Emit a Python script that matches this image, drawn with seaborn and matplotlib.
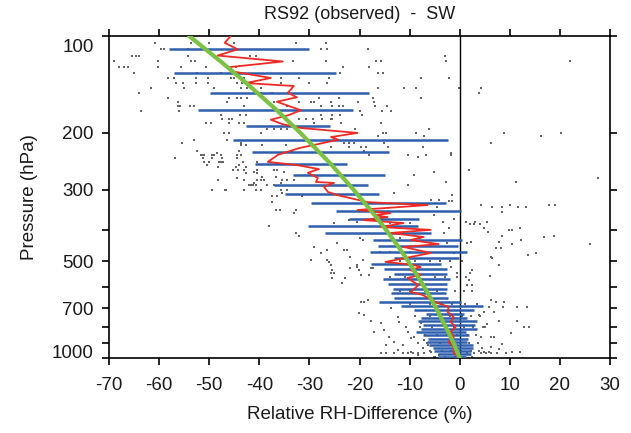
import matplotlib
matplotlib.use("Agg")
import matplotlib.pyplot as plt
import matplotlib.transforms as mtransforms
from matplotlib.ticker import FixedLocator, NullLocator, FixedFormatter
import pandas as pd
import seaborn as sns

# mean profile (red)
red_p = [100, 105, 110, 115, 120, 125, 129, 135, 140, 143, 150, 155, 160, 170, 176, 182,
         188, 193, 200, 206, 210, 223, 234, 246, 252, 259, 266, 276, 284, 286, 294, 305,
         312, 328, 335, 347, 355, 360, 365, 373, 381, 392, 400, 409, 421, 430, 443, 452,
         472, 503, 514, 522, 533, 552, 564, 581, 593, 624, 637, 675, 694, 720, 746, 773,
         801, 830, 861, 892, 924, 965, 1000]
red_x = [-45.7, -46.9, -44.3, -48.3, -35.3, -46.1, -45.1, -37.7, -42.7, -33.1, -34.3, -32.5,
         -36.5, -31.7, -34.1, -37.7, -35.3, -31.7, -20.4, -25.7, -24.2, -32.1, -36.3, -38.3,
         -32.3, -28.1, -30.3, -28.3, -28.7, -25.1, -27.1, -26.3, -24.4, -18.4, -6.4, -20.4,
         -13.8, -17.2, -14.4, -19.2, -11.2, -15.8, -5.8, -13.8, -7.2, -9.8, -4.2, -11.2,
         -5.8, -14.8, -9.2, -7.8, -9.8, -7.8, -10.4, -9.2, -8.2, -9.8, -7.4, -4.4, -2.2,
         -2.4, -1.2, -1.8, -0.8, -1.8, -1.2, -2.2, -1.2, -1.2, 0.2]

# spread at coarser levels (blue)
bar_p = [110, 130, 150, 170, 190, 210, 230, 250, 270, 290, 310, 330, 350, 370, 390, 410,
         430, 450, 470, 490, 510, 530, 550, 570, 590, 610, 630, 650, 670, 690, 710, 730,
         750, 770, 790, 810, 830, 850, 870, 890, 910, 930, 950, 970, 990]
bar_lo = [-58.1, -57.1, -49.9, -52.3, -42.7, -45.3, -41.5, -40.9, -33.3, -37.1, -34.9, -29.7,
          -24.6, -22.0, -30.3, -26.9, -17.4, -16.4, -18.0, -13.2, -17.8, -15.2, -13.2, -15.4,
          -14.4, -13.4, -13.8, -13.2, -16.2, -11.8, -9.2, -6.8, -7.8, -8.4, -7.4, -7.8,
          -8.8, -7.4, -6.4, -6.6, -6.2, -5.4, -5.2, -4.4, -4.4]
bar_hi = [-30.1, -24.6, -18.2, -21.2, -25.9, -2.4, -14.1, -22.4, -15.0, -18.4, -16.2, -2.7,
          0.2, -8.2, -8.4, -5.8, 0.5, -0.3, 1.5, -0.2, -3.8, -2.5, -2.5, -2.0, -2.5, -2.5,
          -2.8, -2.4, 0.2, 4.7, 2.8, 0.8, 1.5, 3.5, 3.0, 3.5, 1.2, 1.8, 1.6, 1.5, 2.6, 2.6,
          2.2, 2.2, 1.2]

# fitted curve (green)
green_p = [100, 120, 140, 170, 200, 250, 300, 350, 400, 450, 500, 600, 700, 800, 900, 1000]
green_x = [-54.0, -47.7, -42.6, -36.5, -31.8, -25.7, -21.2, -17.6, -14.7, -12.3, -10.3,
           -7.1, -4.7, -2.8, -1.2, 0.0]

# individual differences (dots), one list per pressure level
dot_levels = [105, 110, 115, 120, 125, 130, 135, 140, 145, 150, 156, 160, 165, 171, 176, 181,
              186, 194, 200, 205, 210, 215, 218, 221, 228, 231, 234, 238, 239, 246, 252, 255,
              261, 265, 267, 270, 274, 276, 280, 284, 286, 290, 301, 307, 312, 314, 323, 326,
              328, 335, 340, 347, 351, 355, 360, 370, 373, 378, 380, 383, 390, 395, 400, 407,
              410, 418, 421, 425, 430, 436, 440, 442, 452, 455, 462, 470, 472, 479, 485, 489,
              496, 500, 503, 514, 521, 525, 533, 544, 552, 558, 560, 564, 573, 585, 593, 620,
              660, 670, 680, 694, 700, 720, 725, 735, 740, 746, 767, 773, 781, 784, 800, 801,
              818, 830, 836, 850, 861, 867, 879, 892, 898, 900, 905, 911, 924, 931, 938, 945,
              950, 958, 965, 979, 990, 993]
dot_rows = [
    [-60.8, -53.7, -50.1, -45.1, -32.7, -26.7],
    [-59.7, -59.1, -54.2, -27.7, -26.5, -18.4],
    [-65.5, -64.7, -64.0, -54.2, -41.9, -40.7, -2.9],
    [-69.0, -60.2, -53.6, -52.9, -33.2, -26.7, -16.8, -15.8, -2.8, 22.0],
    [-68.0, -67.0, -66.3, -60.3, -55.7, -50.7, -44.7, -23.2, -18.2],
    [-65.1, -52.4, -47.6, -23.9, -16.3, -15.4],
    [-58.3, -57.0, -52.7, -50.2, -45.7, -45.0, -43.1, -35.7, -32.1, -26.1, -7.8, -2.1],
    [-56.7, -55.2, -52.7, -50.2, -44.4, -43.4, -41.7, -35.7, -30.1, -26.4],
    [-61.7, -55.0, -49.0, -43.7, -42.4, -39.7, -16.4, -11.1, -8.8, -0.1, 4.2],
    [-64.0, -39.7, -37.4, 3.9],
    [-58.3, -46.0, -44.4, -43.7, -42.4, -28.1, -24.1, -17.4, -7.8],
    [-56.3, -46.4, -37.1, -32.1, -29.6, -29.1, -25.7, -20.3, -17.1],
    [-56.3, -55.9, -53.8, -53.0, -43.1, -34.4, -27.7, -25.4, -24.1, -23.2, -16.9, -14.6],
    [-63.7, -56.0, -19.9, -15.6, -13.8],
    [-47.7, -43.9, -42.7, -27.7, -25.4, -23.9, -19.6],
    [-47.4, -46.0, -45.4, -32.1, -30.7, -29.2, -27.4, -25.7, -25.4],
    [-50.7, -49.7, -46.0, -44.0, -43.1, -29.1, -23.6, -15.8],
    [-38.4, -37.1, -35.7, -34.4, -32.7, -20.8, -6.1],
    [-47.0, -46.0, -39.7, -15.4, -14.8, -8.8, 8.8, 20.3],
    [-16.4, -7.1, 16.2],
    [-53.0, -46.4],
    [-55.4, -43.7, -23.1, -22.1, -21.1, -15.1, 6.2],
    [-43.7, -42.7, -39.4, -34.7],
    [-25.7, -22.1, -19.8, -18.8, -14.4, -7.4],
    [-52.4, -44.0, -33.4, -19.1],
    [-48.4, -1.8],
    [-51.7, -51.4, -51.0, -49.4, -49.0, -47.7, -44.4, -43.7, -18.1, -10.4, -6.8, -1.8],
    [-8.4],
    [-56.8, -51.2, -49.4, -47.4, -44.4],
    [-51.0, -50.0, -48.0, -47.7, -47.2, -43.2, -40.4],
    [-50.5, -44.1],
    [-48.2, -44.7, -42.7],
    [-45.2, -44.3, -43.1, -40.4, -37.1, -36.4, 1.9],
    [-41.1, -35.1, -5.1],
    [-42.7, -40.4],
    [-9.1],
    [-39.4, -36.7],
    [-44.4, 27.6],
    [-48.2, -43.1, -40.4, -39.7, -39.1, -35.4, -34.4, -33.1],
    [-2.8, 11.2],
    [-41.1, -35.7],
    [-42.1, -41.7, -41.2, -40.7, -38.4, -37.1, -10.4],
    [-49.4, -46.8, -46.7, -43.1, -40.7, -39.7, -35.7, -34.4],
    [-35.4, -13.1],
    [-1.5],
    [-37.4, -36.4, -31.4],
    [-5.8, -4.1],
    [-2.1, -1.5],
    [-37.5],
    [4.2, 10.0, 17.8, 19.0],
    [-4.5, 6.5, 8.5, 11.7, 13.2],
    [-36.6, -35.9, -32.7],
    [8.5],
    [-33.1],
    [-5.1],
    [-1.1],
    [-22.1],
    [-20.4, -3.3, 1.3, 3.1, 5.4],
    [-25.0, -14.0, -10.0],
    [2.1, 2.9, 4.1],
    [-38.1],
    [-2.1, 4.9, 12.0],
    [9.8, 10.5],
    [5.7],
    [-32.7, -3.1],
    [-32.1, 8.4, 18.8],
    [16.8],
    [-20.0, -12.0, -8.0],
    [-19.4, 12.3],
    [2.3, 7.8],
    [-24.4, -2.5, 1.4],
    [10.5, 26.1],
    [-29.1],
    [7.2, 8.2],
    [-26.4, -23.1, -22.4],
    [-16.0, -14.0, -10.0],
    [-27.7, -1.1, 15.2],
    [13.7],
    [-21.8, 6.2],
    [6.4],
    [-29.7, -26.4, -19.4],
    [-12.0, -9.0, -6.0, -4.0, -2.0, 0.5],
    [-26.1],
    [-25.7, -20.4, 7.8],
    [-20.4, -1.8],
    [-21.8, -17.8, -17.4],
    [-25.4, -20.1, 2.5],
    [-25.7, -25.1, -0.5, 2.1],
    [-19.8, -18.1],
    [6.0],
    [-14.0, -11.0, -8.5, -5.0, -3.0, -0.5, 1.2],
    [-25.4, -22.8],
    [1.9],
    [-23.4],
    [1.4, 2.5],
    [-12.0, -10.0, -7.0, -4.5, -1.0, 0.8, 2.5],
    [-18.4, 6.2],
    [-19.8, -19.1, 7.2, 8.8],
    [-10.0, -6.0, -3.5, -1.5, 1.0, 3.5],
    [5.8, 8.6, 11.5, 13.4],
    [-13.8],
    [4.9, 6.8],
    [-20.1],
    [-19.1, 3.9],
    [-9.0, -6.0, -4.0, -2.0, 0.5, 2.2, 4.0],
    [-12.4],
    [-17.8, 7.8, 11.5],
    [-12.1],
    [-15.8, -7.8],
    [5.4],
    [-8.0, -5.5, -3.0, -1.2, 0.8, 2.6, 5.0],
    [-10.8, 4.7, 12.8, 13.8],
    [-15.1],
    [-17.1, -10.4],
    [10.2],
    [-7.0, -4.5, -2.5, -0.5, 1.4, 3.2],
    [-14.1, -9.1, 4.2, 6.2, 6.8],
    [-9.8],
    [-7.1],
    [-13.1],
    [-8.4],
    [-6.5, -4.0, -2.0, 0.0, 1.8, 3.6],
    [8.5],
    [-14.8, -11.4, -6.4],
    [6.2],
    [-7.4, 4.5],
    [7.8],
    [-12.4],
    [-6.0, -3.5, -1.8, 0.3, 2.2, 3.8],
    [-9.8, -5.8, 4.9, 5.8, 10.4, 12.0],
    [-15.8, -14.8, -13.1, -11.4, -10.4, -9.4, -8.4, -7.1, 1.5, 2.9, 4.2, 5.2, 6.2, 7.5, 9.2],
    [-8.4, -4.1],
    [-5.0, -3.0, -1.0, 0.8, 2.5],
    [-5.1],
]

x_ticks = [-70, -60, -50, -40, -30, -20, -10, 0, 10, 20, 30]
y_ticks = [100, 200, 300, 400, 500, 600, 700, 800, 900, 1000]
y_labels = ["100", "200", "300", "", "500", "", "700", "", "", "1000"]

dots = pd.DataFrame(
    [(x, p) for p, row in zip(dot_levels, dot_rows) for x in row], columns=["x", "p"]
)

sns.set_style("ticks")
plt.rcParams["font.family"] = ["Liberation Sans", "DejaVu Sans"]
plt.rcParams["text.color"] = "#1a1a1a"
plt.rcParams["axes.labelcolor"] = "#1a1a1a"
plt.rcParams["xtick.color"] = "black"
plt.rcParams["ytick.color"] = "black"
plt.rcParams["xtick.labelcolor"] = "#1a1a1a"
plt.rcParams["ytick.labelcolor"] = "#1a1a1a"

fig = plt.figure(figsize=(6.31, 4.33), dpi=100)
ax = fig.add_axes([109 / 631, 1 - 358 / 433, 501 / 631, 322 / 433])

sns.scatterplot(data=dots, x="x", y="p", s=1.6, marker="s", color="#666666",
                linewidth=0, ax=ax, legend=False, zorder=1)
ax.axvline(0, color="black", lw=1.0, zorder=2)
ax.hlines(bar_p, bar_lo, bar_hi, colors="#2d5fae", lw=1.8, zorder=3)
sns.lineplot(x=red_x, y=red_p, sort=False, estimator=None, color="#ee2a24",
             lw=1.3, ax=ax, zorder=4)
sns.lineplot(x=green_x, y=green_p, sort=False, estimator=None, color="#7bc143",
             lw=3, ax=ax, zorder=5)

ax.set_yscale("log")
ax.set_ylim(1000, 100)
ax.set_xlim(-70, 30)
ax.yaxis.set_major_locator(FixedLocator(y_ticks))
ax.yaxis.set_major_formatter(FixedFormatter(y_labels))
ax.yaxis.set_minor_locator(NullLocator())
ax.set_xticks(x_ticks)
ax.set_xticklabels([str(v) for v in x_ticks])

ax.tick_params(which="major", direction="out", length=5, width=1.2,
               top=True, right=True, labelsize=13.5)
ax.tick_params(axis="x", pad=9)
ax.tick_params(axis="y", pad=6)
for s in ax.spines.values():
    s.set_linewidth(1.2)
    s.set_color("black")

ax.set_xlabel("Relative RH-Difference (%)", fontsize=13.5, labelpad=8)
ax.set_ylabel("Pressure (hPa)", fontsize=13.5, labelpad=10)
ax.set_title("RS92 (observed)  -  SW", fontsize=13, pad=12)

# end labels on the pressure axis sit inside the frame
for lab in ax.get_yticklabels():
    if lab.get_text() == "100":
        lab.set_transform(lab.get_transform() +
                          mtransforms.ScaledTranslation(0, -10 / 100, fig.dpi_scale_trans))
    if lab.get_text() == "1000":
        lab.set_transform(lab.get_transform() +
                          mtransforms.ScaledTranslation(0, 6 / 100, fig.dpi_scale_trans))

fig.savefig("out.png", dpi=100)
